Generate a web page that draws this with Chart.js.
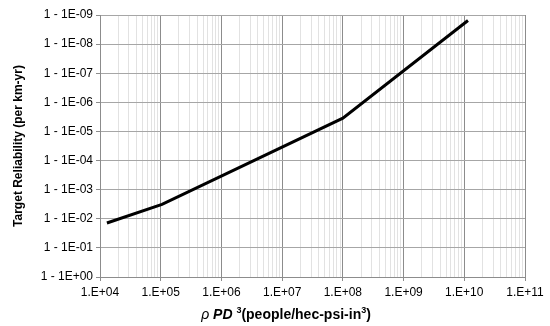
<!DOCTYPE html>
<html>
<head>
<meta charset="utf-8">
<script src="https://cdn.jsdelivr.net/npm/chart.js@4/dist/chart.umd.min.js"></script>
<style>
  html, body { margin: 0; padding: 0; background: #fff; }
  #wrap { width: 550px; height: 326px; }
</style>
</head>
<body>
<div id="wrap"><canvas id="reliabilityChart" width="550" height="326"></canvas></div>
<script>
// Data
const xValues = [1.3e4, 1.05e5, 1.0e8, 1.15e10];     // rho*P*D^3
const failureProb = [1.4e-2, 3.2e-3, 3.5e-6, 1.55e-9]; // 1 - target reliability
const xDecades = [4, 5, 6, 7, 8, 9, 10, 11];
const yDecades = [-9, -8, -7, -6, -5, -4, -3, -2, -1, 0];
const yTitle = "Target Reliability (per km-yr)";

const FONT = "'Liberation Sans', Arial, sans-serif";

function isDecade(v) {
  const e = Math.log10(v);
  return Math.abs(e - Math.round(e)) < 1e-9;
}

function expStr(e) {
  const sign = e < 0 ? "-" : "+";
  return sign + String(Math.abs(e)).padStart(2, "0");
}

// x axis title has mixed styles, so it is drawn by hand
const xTitlePlugin = {
  id: "xTitle",
  afterDraw(chart) {
    const c = chart.ctx;
    const parts = [
      { t: "\u03C1 ", f: "italic 14px " + FONT, dy: 0 },
      { t: "PD ", f: "italic bold 14px " + FONT, dy: 0 },
      { t: "3", f: "bold 9px " + FONT, dy: -6 },
      { t: "(people/hec-psi-in", f: "bold 14px " + FONT, dy: 0 },
      { t: "3", f: "bold 9px " + FONT, dy: -6 },
      { t: ")", f: "bold 14px " + FONT, dy: 0 },
    ];
    let total = 0;
    parts.forEach(p => { c.font = p.f; total += c.measureText(p.t).width; });
    let x = 286 - total / 2;
    const y = 319;
    c.save();
    c.fillStyle = "#000";
    c.textBaseline = "alphabetic";
    parts.forEach(p => {
      c.font = p.f;
      c.fillText(p.t, x, y + p.dy);
      x += c.measureText(p.t).width;
    });
    c.restore();
  }
};

const data = {
  datasets: [
    {
      data: xValues.map((x, i) => ({ x: x, y: failureProb[i] })),
      borderColor: "#000",
      borderWidth: 3,
      pointRadius: 0,
      fill: false,
      tension: 0,
    },
  ],
};

new Chart(document.getElementById("reliabilityChart"), {
  type: "line",
  data: data,
  plugins: [xTitlePlugin],
  options: {
    responsive: false,
    animation: false,
    layout: { padding: { top: 15, right: 25, left: 11, bottom: 0 } },
    plugins: { legend: { display: false }, tooltip: { enabled: false } },
    scales: {
      x: {
        type: "logarithmic",
        min: 1e4,
        max: 1e11,
        afterBuildTicks(scale) {
          const ticks = [];
          xDecades.forEach(e => {
            for (let m = 1; m <= 9; m++) {
              if (e === xDecades[xDecades.length - 1] && m > 1) break;
              ticks.push({ value: m * Math.pow(10, e) });
            }
          });
          scale.ticks = ticks;
        },
        afterFit(scale) { scale.height = 49; },
        grid: {
          color: ctx => isDecade(ctx.tick.value) ? "#8c8c8c" : "#e2e2e2",
          tickColor: ctx => isDecade(ctx.tick.value) ? "#8c8c8c" : "rgba(0,0,0,0)",
          tickLength: 4,
          lineWidth: 1,
        },
        border: { color: "#8c8c8c" },
        ticks: {
          autoSkip: false,
          maxRotation: 0,
          minRotation: 0,
          padding: 4,
          color: "#000",
          font: { family: FONT, size: 12 },
          callback: v => isDecade(v) ? "1.E" + expStr(Math.round(Math.log10(v))) : "",
        },
      },
      y: {
        type: "logarithmic",
        reverse: true,
        min: 1e-9,
        max: 1,
        afterBuildTicks(scale) {
          scale.ticks = yDecades.map(e => ({ value: Math.pow(10, e) }));
        },
        afterFit(scale) { scale.width = 89; },
        grid: {
          color: "#a6a6a6",
          tickColor: "#8c8c8c",
          tickLength: 4,
        },
        border: { color: "#8c8c8c" },
        title: {
          display: true,
          text: yTitle,
          color: "#000",
          font: { family: FONT, size: 12, weight: "bold" },
          padding: { top: 0, bottom: 6 },
        },
        ticks: {
          autoSkip: false,
          padding: 3,
          color: "#000",
          font: { family: FONT, size: 12 },
          callback: v => "1 - 1E" + expStr(Math.round(Math.log10(v))),
        },
      },
    },
  },
});
</script>
</body>
</html>
